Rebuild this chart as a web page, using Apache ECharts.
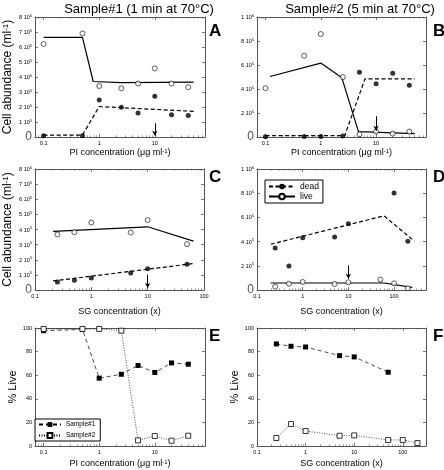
<!DOCTYPE html>
<html><head><meta charset="utf-8">
<script src="https://cdn.jsdelivr.net/npm/echarts@6/dist/echarts.min.js"></script>
<style>html,body{margin:0;padding:0;background:#fff}#c{width:444px;height:470px}</style>
</head><body><div id="c"></div>
<script>
// ---------- DATA ----------
// Panel A (Sample#1, PI)
const xA = [0.1, 0.5, 1, 2.5, 5, 10, 20, 40];
const liveA = [6.2e5, 6.9e5, 3.4e5, 3.25e5, 3.56e5, 4.57e5, 3.56e5, 3.32e5];
const deadA = [0.09e5, 0.09e5, 2.47e5, 1.98e5, 1.6e5, 2.72e5, 1.49e5, 1.43e5];
const liveFitAx = [0.1, 0.5, 0.78, 2.5, 50];
const liveFitAy = [6.64e5, 6.64e5, 3.7e5, 3.62e5, 3.66e5];
const deadFitAx = [0.1, 0.5, 1, 50];
const deadFitAy = [0.13e5, 0.13e5, 2.03e5, 1.71e5];
const arrowA = [10, 0.91e5, 0.09e5];
// Panel B (Sample#2, PI)
const xB = [0.1, 0.5, 1, 2.5, 5, 10, 20, 40];
const liveB = [4.07e5, 6.77e5, 8.58e5, 4.99e5, 0.22e5, 0.45e5, 0.28e5, 0.45e5];
const deadB = [0.03e5, 0.05e5, 0.05e5, 0.08e5, 5.4e5, 4.43e5, 5.32e5, 4.32e5];
const liveFitBx = [0.12, 1, 2.4, 4.8, 50];
const liveFitBy = [5.04e5, 6.16e5, 4.93e5, 0.45e5, 0.28e5];
const deadFitBx = [0.1, 2.7, 6.3, 50];
const deadFitBy = [0.11e5, 0.11e5, 4.85e5, 4.85e5];
const arrowB = [10, 1.73e5, 0.53e5];
// Panel C (Sample#1, SG)
const xC = [0.25, 0.5, 1, 5, 10, 50];
const liveC = [3.67e5, 3.82e5, 4.46e5, 3.8e5, 4.62e5, 3.03e5];
const deadC = [0.53e5, 0.64e5, 0.8e5, 1.13e5, 1.41e5, 1.7e5];
const liveFitCx = [0.21, 10, 65];
const liveFitCy = [3.87e5, 4.18e5, 3.23e5];
const deadFitCx = [0.21, 65];
const deadFitCy = [0.6e5, 1.75e5];
const arrowC = [10, 1.02e5, 0.13e5];
// Panel D (Sample#2, SG)
const xDlive = [0.25, 0.5, 1, 5, 10, 50, 100, 200];
const liveD = [0.28e5, 0.52e5, 0.66e5, 0.5e5, 0.64e5, 0.86e5, 0.55e5, 0.14e5];
const xDdead = [0.25, 0.5, 1, 5, 10, 100, 200];
const deadD = [3.48e5, 1.99e5, 4.31e5, 4.39e5, 5.47e5, 8.01e5, 4.03e5];
const liveFitDx = [0.2, 60, 250];
const liveFitDy = [0.58e5, 0.58e5, 0.22e5];
const deadFitDx = [0.2, 60, 280];
const deadFitDy = [3.78e5, 6.13e5, 4.03e5];
const arrowD = [10, 2.04e5, 0.94e5];
// Panel E (% live, PI)
const xE = [0.1, 0.5, 1, 2.5, 5, 10, 20, 40];
const pctE1 = [97.7, 98.8, 57.5, 60.8, 68.2, 62.3, 70.4, 69.3];
const pctE2 = [99.2, 99.2, 99.2, 97.7, 4.8, 8.5, 4.5, 8.7];
// Panel F (% live, SG)
const xF1 = [0.25, 0.5, 1, 5, 10, 50];
const pctF1 = [86.5, 84.5, 83.9, 76.6, 75.5, 62.5];
const xF2 = [0.25, 0.5, 1, 5, 10, 50, 100, 200];
const pctF2 = [6.8, 18.6, 12.7, 8.7, 9.0, 5.1, 5.1, 2.5];
// Labels
const titles = ['Sample#1 (1 min at 70°C)', 'Sample#2 (5 min at 70°C)'];
const letters = ['A', 'B', 'C', 'D', 'E', 'F'];
const legendD = ['dead', 'live'];
const legendE = ['Sample#1', 'Sample#2'];

// ---------- BUILD ----------
const FONT = '"Liberation Sans", Arial, Helvetica, sans-serif';
const AX = '#555';
const zip = (xs, ys) => xs.map((x, i) => [x, ys[i]]);
function majors(min, max) { const o = []; for (let e = -2; e <= 3; e++) { const v = +Math.pow(10, e).toPrecision(3); if (v >= min && v <= max) o.push(v); } return o; }
function minors(min, max) { const o = []; for (let e = -2; e <= 3; e++) for (let m = 2; m <= 9; m++) { const v = +(m * Math.pow(10, e)).toPrecision(3); if (v > min && v < max) o.push(v); } return o; }
function sci(v) { if (v === 0) return '0'; const e = Math.floor(Math.log10(v) + 1e-9); const m = Math.round(v / Math.pow(10, e)); return '{m|' + m + ' 10}{e|' + e + '}'; }
const sciRich = { m: { fontSize: 5.5, fontFamily: FONT, color: '#000', verticalAlign: 'bottom' }, e: { fontSize: 4, fontFamily: FONT, color: '#000', verticalAlign: 'top', padding: [0, 0, 3, 0] } };
const nameRich = { a: { fontSize: 9, fontFamily: FONT, color: '#000', verticalAlign: 'bottom' }, s: { fontSize: 6, fontFamily: FONT, color: '#000', verticalAlign: 'top', padding: [0, 0, 3, 0] } };
const yNameRich = { a: { fontSize: 12, fontFamily: FONT, color: '#000', verticalAlign: 'bottom' }, b: { fontSize: 11, fontFamily: FONT, color: '#000' }, s: { fontSize: 8, fontFamily: FONT, color: '#000', verticalAlign: 'top', padding: [0, 0, 4, 0] } };

const grids = [], xAxes = [], yAxes = [], series = [];
function panel(o) {
  const gi = grids.length;
  grids.push({ left: o.left, top: o.top, width: o.width, height: o.height });
  const xi = xAxes.length, yi = yAxes.length;
  const maj = majors(o.xmin, o.xmax), mnr = minors(o.xmin, o.xmax);
  const base = { type: 'log', logBase: 10, gridIndex: gi, min: o.xmin, max: o.xmax, splitLine: { show: false } };
  xAxes.push(Object.assign({}, base, {
    position: 'bottom',
    axisLine: { show: true, lineStyle: { color: AX, width: 1 } },
    axisTick: { show: true, inside: true, length: 3, customValues: maj, lineStyle: { color: AX, width: 0.8 } },
    axisLabel: { show: true, customValues: maj, fontSize: 5.5, fontFamily: FONT, color: '#000', margin: 3, formatter: v => String(+(+v).toPrecision(3)) },
    name: o.xname, nameLocation: 'middle', nameGap: o.xnameGap, nameTextStyle: { rich: nameRich }
  }));
  xAxes.push(Object.assign({}, base, { position: 'bottom', axisLine: { show: false }, axisTick: { show: true, inside: true, length: 1.6, customValues: mnr, lineStyle: { color: AX, width: 0.6 } }, axisLabel: { show: false } }));
  xAxes.push(Object.assign({}, base, { position: 'top', axisLine: { show: true, lineStyle: { color: AX, width: 1 } }, axisTick: { show: true, inside: true, length: 3, customValues: maj, lineStyle: { color: AX, width: 0.8 } }, axisLabel: { show: false } }));
  xAxes.push(Object.assign({}, base, { position: 'top', axisLine: { show: false }, axisTick: { show: true, inside: true, length: 1.6, customValues: mnr, lineStyle: { color: AX, width: 0.6 } }, axisLabel: { show: false } }));
  const yb = { type: 'value', gridIndex: gi, min: 0, max: o.ymax, interval: o.yint, splitLine: { show: false } };
  yAxes.push(Object.assign({}, yb, {
    position: 'left',
    axisLine: { show: true, lineStyle: { color: AX, width: 1 } },
    axisTick: { show: true, inside: true, length: 3, lineStyle: { color: AX, width: 0.8 } },
    axisLabel: o.pct ? { fontSize: 5.5, fontFamily: FONT, color: '#000', margin: 3 } : { formatter: sci, rich: sciRich, margin: 3 },
    name: o.yname || '', nameLocation: 'middle', nameGap: o.ynameGap || 20, nameTextStyle: { rich: yNameRich }
  }));
  yAxes.push(Object.assign({}, yb, { position: 'right', axisLine: { show: true, lineStyle: { color: AX, width: 1 } }, axisTick: { show: true, inside: true, length: 3, lineStyle: { color: AX, width: 0.8 } }, axisLabel: { show: false } }));
  return { xi, yi };
}
const PI = '{a|PI concentration (μg ml}{s|-1}{a|)}';
const SG = '{a|SG concentration (x)}';
const CELL = '{a|Cell abundance (ml}{s|-1}{a|)}';
const LIVE = '{b|% Live}';

const pA = panel({ left: 35, top: 17, width: 170, height: 120, xmin: 0.07, xmax: 80, ymax: 8e5, yint: 1e5, xname: PI, xnameGap: 11, yname: CELL, ynameGap: 21 });
const pB = panel({ left: 257, top: 17, width: 169, height: 120, xmin: 0.07, xmax: 80, ymax: 1e6, yint: 2e5, xname: PI, xnameGap: 11 });
const pC = panel({ left: 35, top: 169, width: 169, height: 121, xmin: 0.1, xmax: 100, ymax: 8e5, yint: 1e5, xname: SG, xnameGap: 17, yname: CELL, ynameGap: 21 });
const pD = panel({ left: 257, top: 169, width: 169, height: 121, xmin: 0.1, xmax: 500, ymax: 1e6, yint: 2e5, xname: SG, xnameGap: 17 });
const pE = panel({ left: 35, top: 328, width: 170, height: 118, xmin: 0.07, xmax: 80, ymax: 100, yint: 20, pct: true, xname: PI, xnameGap: 13, yname: LIVE, ynameGap: 16 });
const pF = panel({ left: 257, top: 328, width: 169, height: 118, xmin: 0.1, xmax: 300, ymax: 100, yint: 20, pct: true, xname: SG, xnameGap: 13, yname: LIVE, ynameGap: 16 });

const openC = { color: '#fff', borderColor: '#000', borderWidth: 0.8 };
const fillC = { color: '#000' };
function arrowML(a) {
  return { silent: true, symbol: ['none', 'arrow'], symbolSize: [4, 5], label: { show: false }, lineStyle: { color: '#000', width: 1, type: 'solid' }, emphasis: { disabled: true }, animation: false, data: [[{ coord: [a[0], a[1]] }, { coord: [a[0], a[2]] }]] };
}
function cellPanel(p, key, xl, live, xd, dead, lfx, lfy, dfx, dfy, arrow, names) {
  series.push({ name: names[0], type: 'line', xAxisIndex: p.xi, yAxisIndex: p.yi, data: zip(lfx, lfy), symbol: 'circle', showSymbol: false, symbolSize: 5, itemStyle: openC, lineStyle: { color: '#000', width: 1.2 }, z: 2 });
  series.push({ name: names[1], type: 'line', xAxisIndex: p.xi, yAxisIndex: p.yi, data: zip(dfx, dfy), symbol: 'circle', showSymbol: false, symbolSize: 5, itemStyle: fillC, lineStyle: { color: '#000', width: 1.2, type: [4, 2.5] }, z: 2 });
  series.push({ name: key + ' live pts', type: 'scatter', xAxisIndex: p.xi, yAxisIndex: p.yi, data: zip(xl, live), symbol: 'circle', symbolSize: 5, itemStyle: openC, z: 4 });
  series.push({ name: key + ' dead pts', type: 'scatter', xAxisIndex: p.xi, yAxisIndex: p.yi, data: zip(xd, dead), symbol: 'circle', symbolSize: 5, itemStyle: fillC, z: 4, markLine: arrowML(arrow) });
}
cellPanel(pA, 'A', xA, liveA, xA, deadA, liveFitAx, liveFitAy, deadFitAx, deadFitAy, arrowA, ['A live fit', 'A dead fit']);
cellPanel(pB, 'B', xB, liveB, xB, deadB, liveFitBx, liveFitBy, deadFitBx, deadFitBy, arrowB, ['B live fit', 'B dead fit']);
cellPanel(pC, 'C', xC, liveC, xC, deadC, liveFitCx, liveFitCy, deadFitCx, deadFitCy, arrowC, ['C live fit', 'C dead fit']);
cellPanel(pD, 'D', xDlive, liveD, xDdead, deadD, liveFitDx, liveFitDy, deadFitDx, deadFitDy, arrowD, [legendD[1], legendD[0]]);

function pctPanel(p, x1, y1, x2, y2, names) {
  series.push({ name: names[0], type: 'line', xAxisIndex: p.xi, yAxisIndex: p.yi, data: zip(x1, y1), symbol: 'rect', symbolSize: 5, itemStyle: fillC, lineStyle: { color: '#000', width: 0.7, type: [4, 3] }, z: 3 });
  series.push({ name: names[1], type: 'line', xAxisIndex: p.xi, yAxisIndex: p.yi, data: zip(x2, y2), symbol: 'rect', symbolSize: 5, itemStyle: openC, lineStyle: { color: '#000', width: 0.7, type: [1, 1.5] }, z: 4 });
}
pctPanel(pE, xE, pctE1, xE, pctE2, legendE);
pctPanel(pF, xF1, pctF1, xF2, pctF2, ['F s1', 'F s2']);

const graphic = [
  { type: 'text', x: 139, y: 9, style: { text: titles[0], font: '13px ' + FONT, fill: '#000', align: 'center', verticalAlign: 'middle' } },
  { type: 'text', x: 360, y: 9, style: { text: titles[1], font: '13px ' + FONT, fill: '#000', align: 'center', verticalAlign: 'middle' } }
];
const letterPos = [[209, 31], [433, 31], [209, 177], [433, 177], [209, 336], [433, 336]];
letters.forEach((L, i) => graphic.push({ type: 'text', x: letterPos[i][0], y: letterPos[i][1], style: { text: L, font: 'bold 17px ' + FONT, fill: '#000', align: 'left', verticalAlign: 'middle' } }));

const chart = echarts.init(document.getElementById('c'), null, { renderer: 'canvas' });
chart.setOption({
  animation: false,
  backgroundColor: '#fff',
  grid: grids, xAxis: xAxes, yAxis: yAxes, series: series, graphic: graphic,
  legend: [
    { data: legendD, left: 265, top: 180, orient: 'vertical', itemGap: 1, itemWidth: 26, itemHeight: 7, padding: [2, 4, 2, 3], borderColor: '#000', borderWidth: 1, backgroundColor: '#fff', selectedMode: false, textStyle: { fontSize: 8.5, fontFamily: FONT, color: '#000' } },
    { data: legendE, left: 35, top: 419, orient: 'vertical', itemGap: 4, itemWidth: 22, itemHeight: 6, padding: [2, 5, 2, 3], borderColor: '#000', borderWidth: 1, backgroundColor: '#fff', selectedMode: false, textStyle: { fontSize: 6.5, fontFamily: FONT, color: '#000' } }
  ]
});
</script></body></html>
